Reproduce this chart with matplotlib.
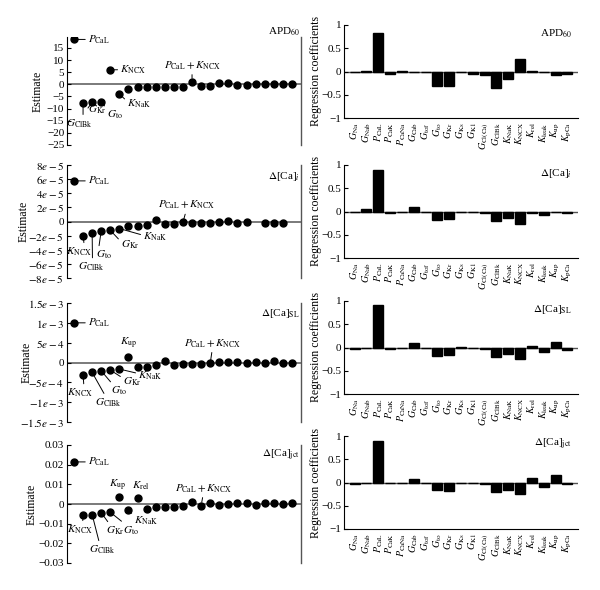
import numpy as np
import matplotlib
matplotlib.use('Agg')
import matplotlib.pyplot as plt

plt.rcParams['font.family'] = ['Liberation Serif', 'DejaVu Serif']
plt.rcParams['mathtext.fontset'] = 'stix'
plt.rcParams['axes.unicode_minus'] = True

nan = np.nan

# ---------------- data ----------------
params = [r'$G_{\rm Na}$', r'$G_{\rm Nab}$', r'$P_{\rm CaL}$', r'$P_{\rm CaK}$', r'$P_{\rm CaNa}$',
          r'$G_{\rm Cab}$', r'$G_{\rm tof}$', r'$G_{\rm to}$', r'$G_{\rm Kr}$', r'$G_{\rm Ks}$',
          r'$G_{\rm K1}$', r'$G_{\rm Cl(Ca)}$', r'$G_{\rm ClBk}$', r'$K_{\rm NaK}$', r'$K_{\rm NCX}$',
          r'$K_{\rm rel}$', r'$K_{\rm leak}$', r'$K_{\rm up}$', r'$K_{\rm pCa}$']

coef_apd = [0.0, 0.02, 0.82, -0.05, 0.02, 0.0, 0.0, -0.32, -0.32, 0.0,
            -0.06, -0.085, -0.35, -0.17, 0.26, 0.02, 0.0, -0.08, -0.06]
coef_cai = [0.0, 0.05, 0.90, -0.04, 0.0, 0.10, 0.0, -0.18, -0.155, 0.0,
            0.0, -0.04, -0.20, -0.15, -0.27, -0.03, -0.08, 0.0, -0.035]
coef_casl = [-0.035, 0.0, 0.91, -0.03, 0.0, 0.10, 0.0, -0.18, -0.17, 0.015,
             0.0, -0.04, -0.21, -0.15, -0.25, 0.04, -0.10, 0.11, -0.05]
coef_cajct = [-0.03, 0.0, 0.90, 0.0, 0.0, 0.08, 0.0, -0.17, -0.18, 0.0,
              0.0, -0.04, -0.21, -0.16, -0.24, 0.10, -0.10, 0.17, -0.035]

est_apd = [18.5, -7.9, -7.4, -7.1, 6.0, -4.0, -1.9, -1.25, -1.1, -1.1, -1.1, -1.1, -1.1,
           1.1, -0.5, -0.5, 0.7, 0.7, -0.2, -0.1, 0.2, 0.3, 0.1, 0.0, 0.0]
est_cai = [5.75, -2.0, -1.6, -1.3, -1.25, -1.0, -0.7, -0.65, -0.5, 0.25, -0.3, -0.3, -0.1,
           -0.15, -0.15, -0.15, 0.0, 0.1, -0.15, -0.1, nan, -0.15, -0.15, -0.15, nan]   # x1e-5
est_casl = [10.0, -3.1, -2.5, -2.1, -1.9, -1.65, 1.4, -1.1, -1.1, -0.75, 0.5, -0.6, -0.4,
            -0.35, -0.5, -0.25, 0.25, 0.1, 0.1, -0.1, 0.25, -0.15, 0.3, -0.1, -0.1]  # x1e-4
est_cajct = [2.14, -0.54, -0.54, -0.44, -0.42, 0.36, -0.31, 0.31, -0.25, -0.17, -0.14, -0.14, -0.1,
             0.12, -0.08, 0.05, -0.03, -0.02, 0.05, 0.05, -0.03, 0.03, 0.07, -0.02, 0.03]  # x1e-2

ticks_apd = [15, 10, 5, 0, -5, -10, -15, -20, -25]
tl_apd = ['15', '10', '5', '0', '\u22125', '\u221210', '\u221215', '\u221220', '\u221225']
ticks_cai = [8e-5, 6e-5, 4e-5, 2e-5, 0, -2e-5, -4e-5, -6e-5, -8e-5]
tl_cai = [r'$8e-5$', r'$6e-5$', r'$4e-5$', r'$2e-5$', '0', r'$-2e-5$', r'$-4e-5$', r'$-6e-5$', r'$-8e-5$']
ticks_casl = [1.5e-3, 1e-3, 5e-4, 0, -5e-4, -1e-3, -1.5e-3]
tl_casl = [r'$1.5e-3$', r'$1e-3$', r'$5e-4$', '0', r'$-5e-4$', r'$-1e-3$', r'$-1.5e-3$']
ticks_cajct = [0.03, 0.02, 0.01, 0, -0.01, -0.02, -0.03]
tl_cajct = ['0.03', '0.02', '0.01', '0', '\u22120.01', '\u22120.02', '\u22120.03']
ticks_coef = [1, 0.5, 0, -0.5, -1]
tl_coef = ['1', '0.5', '0', '\u22120.5', '\u22121']

titles = [r'APD$_{60}$', r'$\Delta$[Ca]$_i$', r'$\Delta$[Ca]$_{\rm SL}$', r'$\Delta$[Ca]$_{\rm jct}$']

PCAL = r'$P_{\rm CaL}$'
PK = r'$P_{\rm CaL}\,{+}\,K_{\rm NCX}$'
# annotations: (index, label, dx_px, dy_px, ha, relpos, line)
ann_apd = [(0, PCAL, 14, 0, 'left', (0, 0.5), True),
           (4, r'$K_{\rm NCX}$', 10, 0, 'left', (0, 0.5), True),
           (13, PK, 0, 16, 'center', (0.5, 0), True),
           (5, r'$K_{\rm NaK}$', 20, -10, 'center', (0, 0.7), True),
           (3, r'$G_{\rm to}$', 14, -13, 'center', (0, 0.9), True),
           (2, r'$G_{\rm Kr}$', 5, -7, 'center', (0, 0.6), True),
           (1, r'$G_{\rm ClBk}$', -4, -20, 'center', (0.65, 1), True)]
ann_cai = [(0, PCAL, 14, 0, 'left', (0, 0.5), True),
           (1, r'$K_{\rm NCX}$', -4, -16, 'center', (0.7, 1), True),
           (2, r'$G_{\rm ClBk}$', -1, -34, 'center', (0.55, 1), True),
           (3, r'$G_{\rm to}$', 3, -24, 'center', (0.15, 1), True),
           (4, r'$G_{\rm Kr}$', 20, -14, 'center', (0, 0.7), True),
           (5, r'$K_{\rm NaK}$', 36, -8, 'center', (0, 0.6), True),
           (12, PK, 3, 17, 'center', (0.5, 0), True)]
ann_casl = [(0, PCAL, 14, 0, 'left', (0, 0.5), True),
            (6, r'$K_{\rm up}$', 0, 13, 'center', (0.5, 0), False),
            (1, r'$K_{\rm NCX}$', -3, -18, 'center', (0.65, 1), True),
            (2, r'$G_{\rm ClBk}$', 16, -30, 'center', (0.4, 1), True),
            (3, r'$G_{\rm to}$', 18, -20, 'center', (0.1, 1), True),
            (4, r'$G_{\rm Kr}$', 22, -12, 'center', (0, 0.8), True),
            (5, r'$K_{\rm NaK}$', 31, -7, 'center', (0, 0.7), True),
            (15, PK, 2, 20, 'center', (0.5, 0), True)]
ann_cajct = [(0, PCAL, 14, 0, 'left', (0, 0.5), True),
             (5, r'$K_{\rm up}$', -2, 11, 'center', (0.5, 0), False),
             (7, r'$K_{\rm rel}$', 3, 12, 'center', (0.5, 0), False),
             (1, r'$K_{\rm NCX}$', -3, -15, 'center', (0.6, 1), True),
             (2, r'$G_{\rm ClBk}$', 10, -35, 'center', (0.4, 1), True),
             (3, r'$G_{\rm Kr}$', 14, -18, 'center', (0.2, 1), True),
             (4, r'$G_{\rm to}$', 21, -18, 'center', (0.1, 1), True),
             (6, r'$K_{\rm NaK}$', 18, -11, 'center', (0, 0.9), True),
             (14, PK, 2, 17, 'center', (0.5, 0), True)]

# ---------------- figure ----------------
W, H = 600, 590
fig = plt.figure(figsize=(W / 100, H / 100), dpi=100)

def rect(x0, y0, x1, y1):
    return [x0 / W, 1 - y1 / H, (x1 - x0) / W, (y1 - y0) / H]

left_rects = [rect(67, 37, 301, 145), rect(67, 165, 301, 278), rect(67, 303, 301, 422), rect(67, 445, 301, 563)]
right_rects = [rect(344, 25, 578, 118), rect(344, 165, 578, 258), rect(344, 301, 578, 394), rect(344, 436, 578, 529)]

left_sets = [
    (est_apd, 1.0, ticks_apd, tl_apd, (-25, 19.5), ann_apd, 1.045, -0.10),
    (est_cai, 1e-5, ticks_cai, tl_cai, (-8e-5, 8e-5), ann_cai, 0.895, -0.16),
    (est_casl, 1e-4, ticks_casl, tl_casl, (-1.5e-3, 1.5e-3), ann_casl, 0.915, -0.147),
    (est_cajct, 1e-2, ticks_cajct, tl_cajct, (-0.03, 0.03), ann_cajct, 0.915, -0.126),
]
right_sets = [coef_apd, coef_cai, coef_casl, coef_cajct]

FS_T = 8
FS_A = 8

for k in range(4):
    vals, sc, tks, tls, yl, anns, ty, lx = left_sets[k]
    ax = fig.add_axes(left_rects[k])
    x = np.arange(1, len(vals) + 1)
    y = np.array(vals, dtype=float) * sc
    ax.axhline(0, color='#7a7a7a', lw=1.4, zorder=1)
    ax.plot(x, y, 'o', color='black', ms=5.0, zorder=3)
    ax.set_xlim(0.23, 26.0)
    ax.set_ylim(*yl)
    ax.set_yticks(tks)
    ax.set_yticklabels(tls, fontsize=FS_T)
    ax.set_xticks([])
    for s in ['top', 'bottom']:
        ax.spines[s].set_visible(False)
    ax.spines['left'].set_linewidth(0.8)
    ax.spines['right'].set_linewidth(1.0)
    ax.spines['right'].set_color('#555555')
    ax.tick_params(axis='y', direction='in', length=3, width=0.8, pad=2)
    ax.set_ylabel('Estimate', fontsize=FS_T + 0.5)
    ax.yaxis.set_label_coords(lx, 0.5)
    ax.text(0.995, ty, titles[k], transform=ax.transAxes, ha='right', va='center', fontsize=FS_A)
    for (i, lab, dx, dy, ha, rp, line) in anns:
        kw = {}
        if line:
            kw['arrowprops'] = dict(arrowstyle='-', lw=0.7, color='black',
                                    shrinkA=0, shrinkB=2.5, relpos=rp)
        ax.annotate(lab, xy=(x[i], y[i]), xytext=(dx, dy), textcoords='offset pixels',
                    ha=ha, va='center', fontsize=FS_A, **kw)

    # right panel
    axr = fig.add_axes(right_rects[k])
    xb = np.arange(1, len(params) + 1)
    axr.bar(xb, right_sets[k], width=0.85, color='black', edgecolor='black', zorder=2)
    axr.axhline(0, color='#555555', lw=1.0, zorder=1)
    axr.set_xlim(0.1, 19.9)
    axr.set_ylim(-1, 1)
    axr.set_yticks(ticks_coef)
    axr.set_yticklabels(tl_coef, fontsize=FS_T)
    axr.set_xticks(xb)
    axr.set_xticklabels(params, rotation=90, fontsize=7.2)
    axr.tick_params(axis='x', length=0, pad=3)
    axr.tick_params(axis='y', direction='in', length=3, width=0.8, pad=2)
    for s in ['top', 'right']:
        axr.spines[s].set_visible(False)
    axr.spines['left'].set_linewidth(0.8)
    axr.spines['bottom'].set_linewidth(0.8)
    axr.set_ylabel('Regression coefficients', fontsize=FS_T + 0.5)
    axr.yaxis.set_label_coords(-0.096, 0.5)
    axr.text(0.975, 0.91, titles[k], transform=axr.transAxes, ha='right', va='center', fontsize=FS_A)

fig.savefig('out.png', dpi=100)
